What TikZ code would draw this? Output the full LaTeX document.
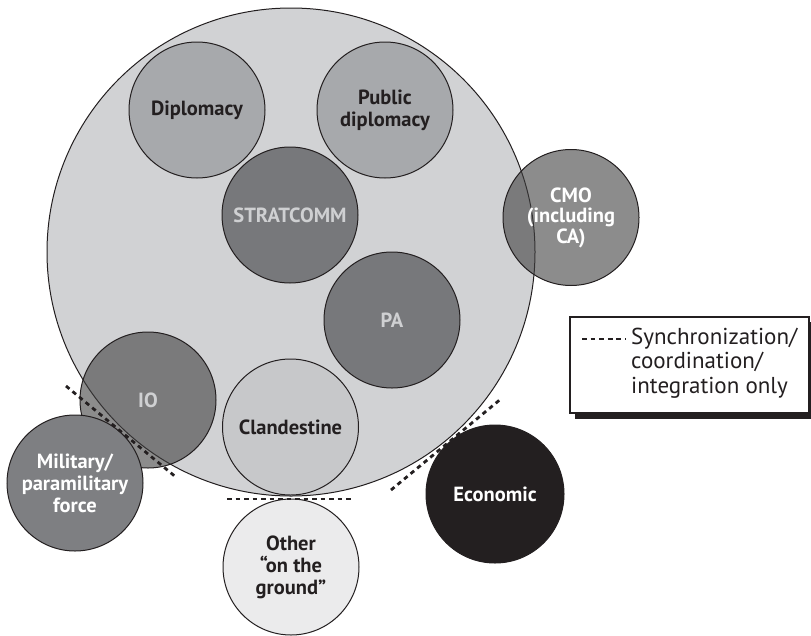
\documentclass[tikz,border=0pt]{standalone}
\usepackage{fontspec}
\setmainfont{PT Sans}
\definecolor{bigfill}{HTML}{D1D2D4}
\definecolor{diplfill}{HTML}{A7A9AC}
\definecolor{darkfill}{HTML}{77787B}
\definecolor{clandfill}{HTML}{C7C8CA}
\definecolor{otherfill}{HTML}{EBEBEC}
\definecolor{econfill}{HTML}{231F20}
\definecolor{milfill}{HTML}{7E7F82}
\definecolor{inkc}{HTML}{231F20}
\definecolor{lighttext}{HTML}{CFD0D2}
\begin{document}
\begin{tikzpicture}[x=1pt,y=-1pt,
  disc/.style={circle, draw=inkc, line width=1pt, minimum size=136pt, inner sep=0pt, align=center,
    font=\fontsize{20.5}{22}\selectfont\bfseries},
  bigdisc/.style={circle, draw=inkc, line width=1pt, minimum size=488pt, inner sep=0pt, fill=bigfill},
  seethru/.style={fill=black!75, fill opacity=0.6, text opacity=1},
  syncline/.style={draw=inkc, line width=2.8pt, dash pattern=on 4.5pt off 4pt},
  legdash/.style={draw=inkc, line width=1.6pt, dash pattern=on 4.8pt off 3.8pt}]
\useasboundingbox (0,0) rectangle (811,635);
% main circle
\node[bigdisc] (main) at (291,252) {};
% inner circles
\node[disc, fill=diplfill, text=inkc] (dipl) at (197,110) {Diplomacy};
\node[disc, fill=diplfill, text=inkc] (pubdipl) at (385,110) {Public\\diplomacy};
\node[disc, fill=darkfill, text=lighttext] (strat) at (290,215) {STRATCOMM};
\node[disc, fill=darkfill, text=lighttext] (pa) at (392,320) {PA};
\node[disc, fill=clandfill, text=inkc] (cland) at (290.5,427) {Clandestine};
\node[disc, seethru, text=lighttext] (io) at (148,400) {IO};
\node[disc, seethru, text=white, font=\fontsize{20.5}{20.5}\selectfont\bfseries] (cmo) at (571,217.5) {CMO\\(including\\CA)};
% outer circles
\node[disc, fill=milfill, text=white] (mil) at (75,483) {Military/\\paramilitary\\force};
\node[disc, fill=otherfill, text=inkc] (other) at (291,567) {Other\\“on the\\ground”};
\node[disc, fill=econfill, text=white, minimum size=138pt] (econ) at (495,494) {Economic};
% synchronization lines
\coordinate (s1a) at (66,386);
\coordinate (s1b) at (177,478);
\coordinate (s2a) at (227,499);
\coordinate (s2b) at (353,499);
\coordinate (s3a) at (391,490);
\coordinate (s3b) at (502,398);
\draw[syncline] (s1a) -- (s1b);
\draw[syncline] (s2a) -- (s2b);
\draw[syncline] (s3a) -- (s3b);
% legend
\fill[inkc] (575,322) rectangle (811,419);
\node[rectangle, draw=inkc, fill=white, line width=1.2pt, minimum width=239pt, minimum height=96pt, inner sep=0pt] (legbox) at (689.5,365) {};
\node[anchor=west, inner sep=0pt, align=left, text=inkc, font=\fontsize{23}{24.5}\selectfont] (legtext) at (631,363) {Synchronization/\\coordination/\\integration only};
\coordinate (lda) at (582,339);
\coordinate (ldb) at (626,339);
\draw[legdash] (lda) -- (ldb);
\end{tikzpicture}
\end{document}
